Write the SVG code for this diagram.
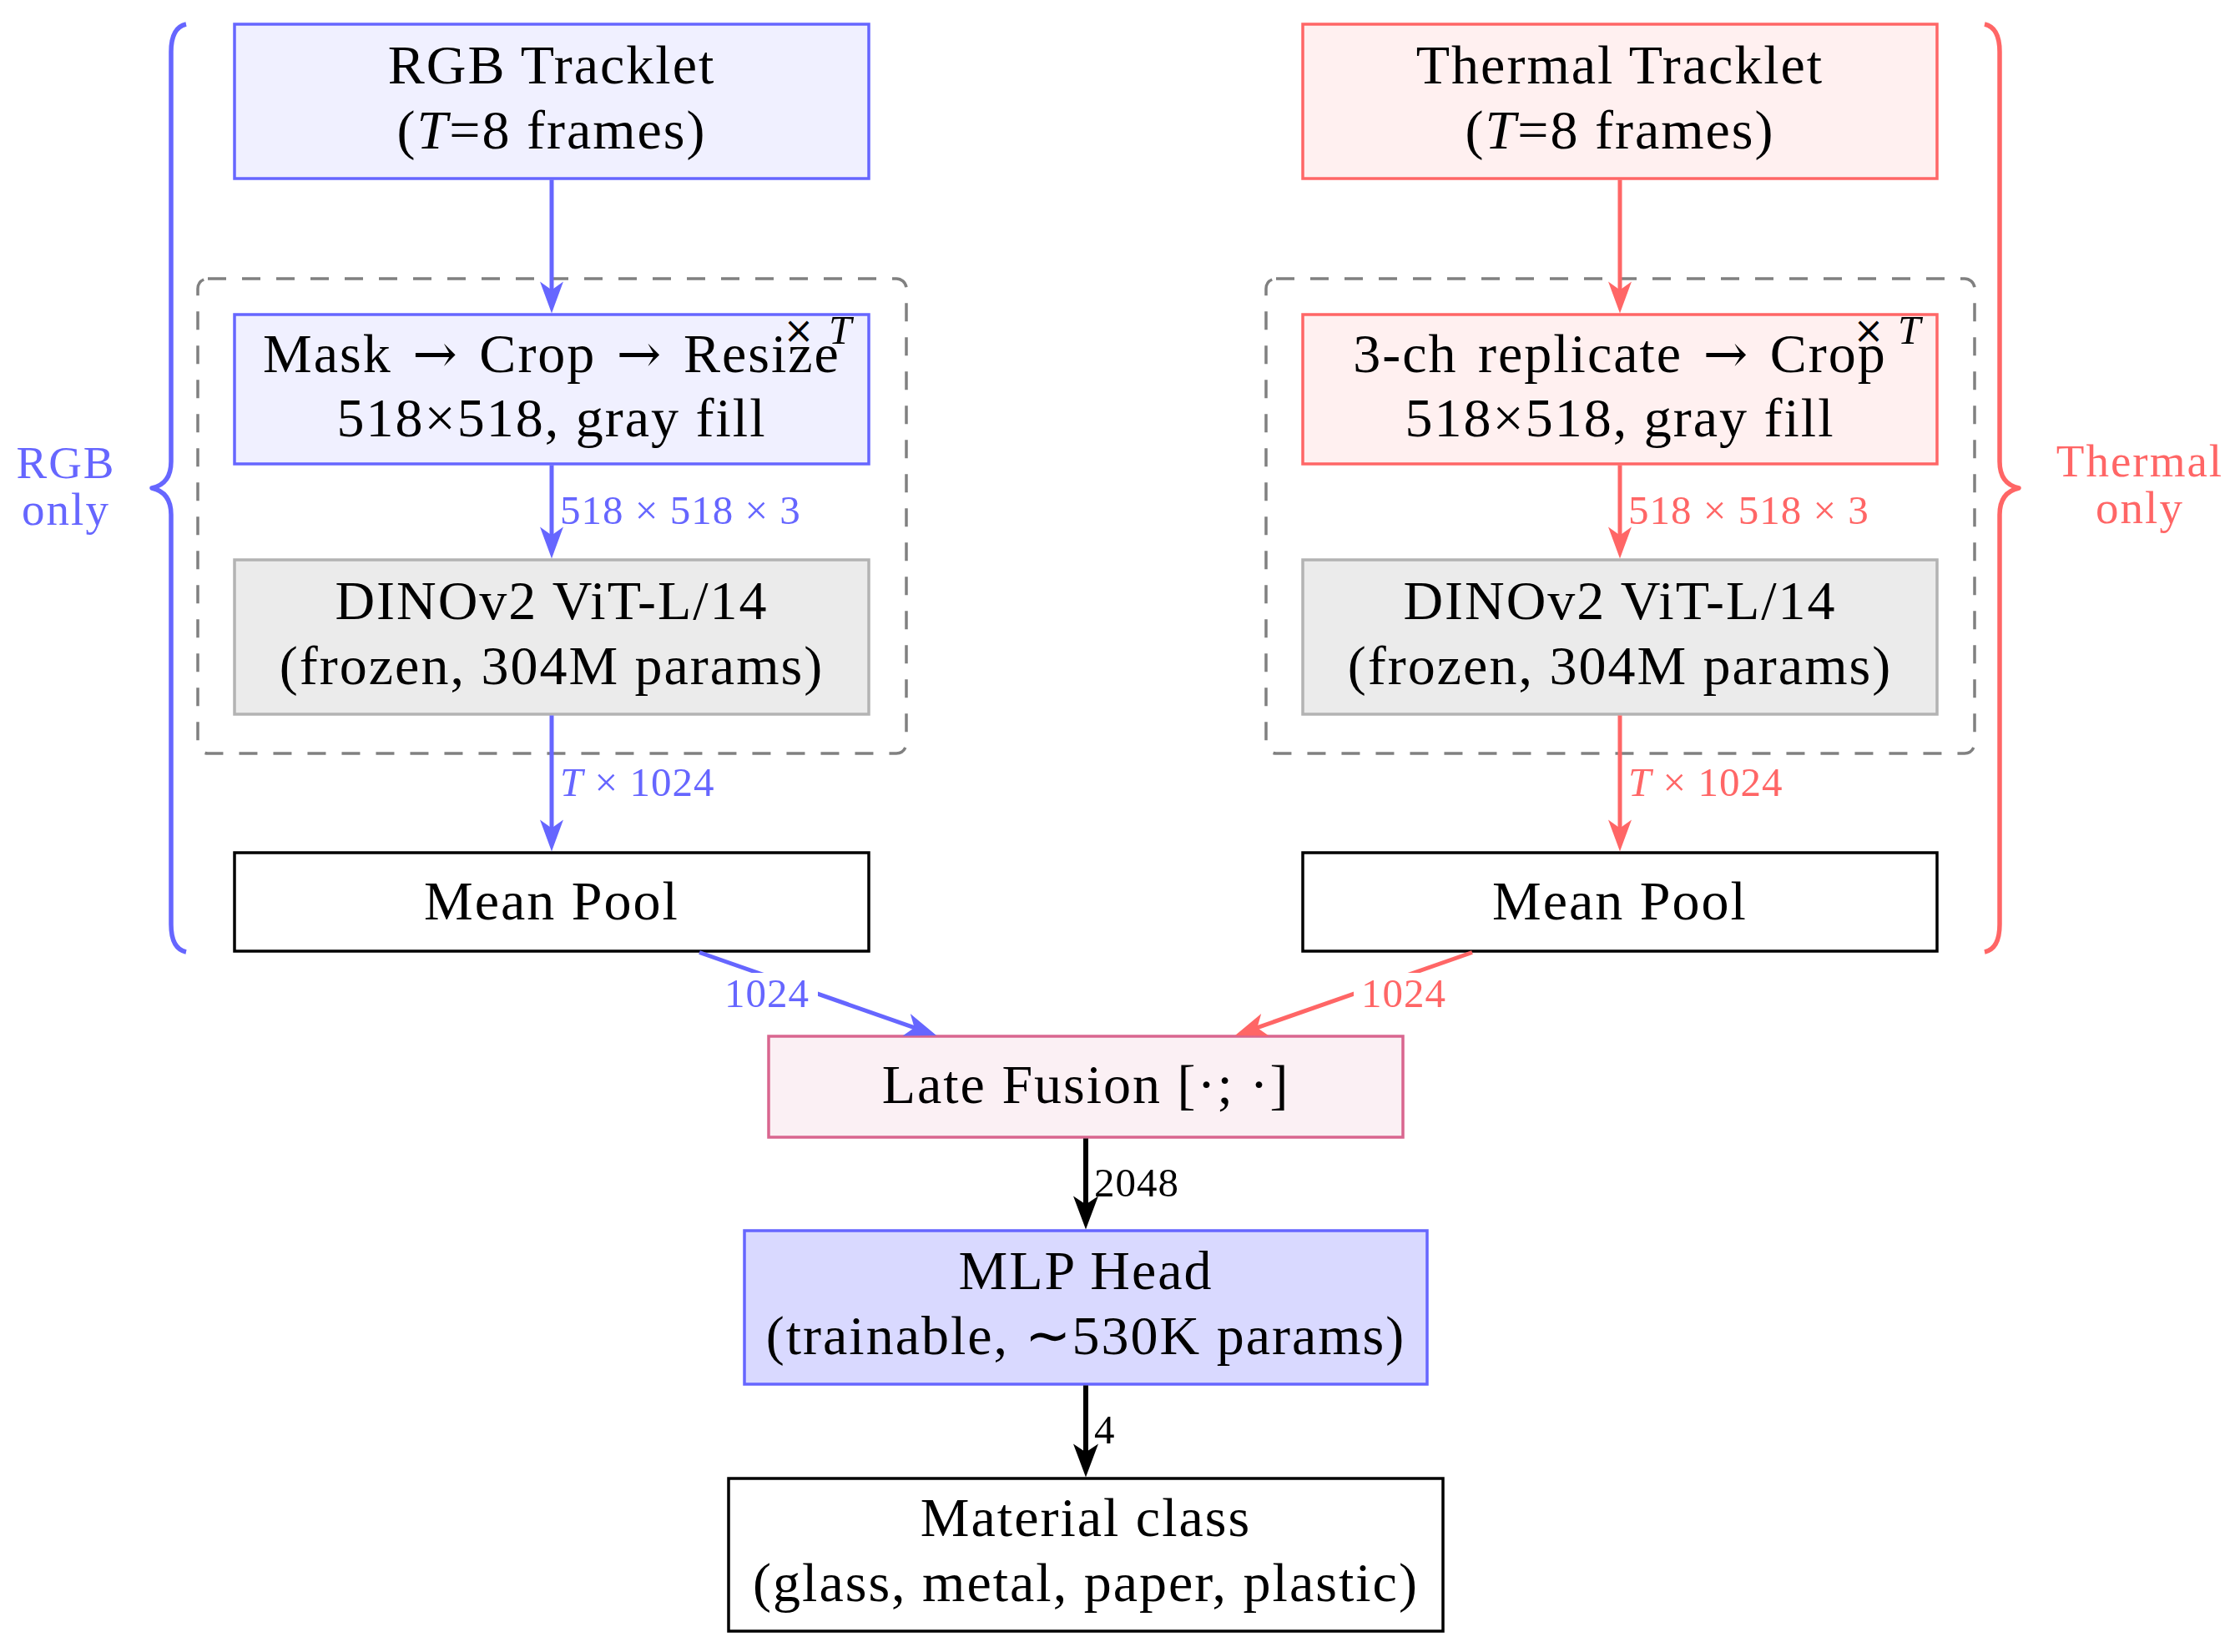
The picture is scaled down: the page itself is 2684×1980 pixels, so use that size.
<svg xmlns="http://www.w3.org/2000/svg" width="2684" height="1980" viewBox="0 0 2684 1980">
<style>
.t{font-family:'Liberation Serif',serif;font-size:66px;letter-spacing:2px;fill:#000;text-anchor:middle}
.s{font-family:'Liberation Serif',serif;font-size:49px;letter-spacing:1px}
.b{font-family:'Liberation Serif',serif;font-size:55px;letter-spacing:2px;text-anchor:middle}
.i{font-style:italic}
.arw{font-family:'DejaVu Serif',serif;font-size:64px}
.ws{word-spacing:6px}
.x{font-family:'DejaVu Sans',sans-serif;font-size:44px;text-anchor:middle}
.box{stroke-width:3.5}
.dash{fill:none;stroke:#808080;stroke-width:3.5;stroke-dasharray:22 19}
.ab{stroke:#6666FF;stroke-width:5;fill:none}
.ar{stroke:#FF6666;stroke-width:5;fill:none}
.ak{stroke:#000;stroke-width:6;fill:none}
.brace{fill:none;stroke-width:5.5;stroke-linejoin:round}
</style>
<defs>
<marker id="mb" markerUnits="userSpaceOnUse" viewBox="-14 -16 44 32" markerWidth="44" markerHeight="32" refX="0" refY="0" orient="auto"><path d="M26 0 L-12 -14 L-2 0 L-12 14 Z" fill="#6666FF"/></marker>
<marker id="mr" markerUnits="userSpaceOnUse" viewBox="-14 -16 44 32" markerWidth="44" markerHeight="32" refX="0" refY="0" orient="auto"><path d="M26 0 L-12 -14 L-2 0 L-12 14 Z" fill="#FF6666"/></marker>
<marker id="mk" markerUnits="userSpaceOnUse" viewBox="-14 -17 46 34" markerWidth="46" markerHeight="34" refX="0" refY="0" orient="auto"><path d="M28 0 L-12 -15 L-2 0 L-12 15 Z" fill="#000"/></marker>
</defs>
<rect width="2684" height="1980" fill="#fff"/>

<g id="braces">
<path class="brace" stroke="#6666FF" d="M223 29 Q205 33 205 62 L205 553 Q205 580 182 585 Q205 590 205 617 L205 1108 Q205 1137 223 1141"/>
<path class="brace" stroke="#FF6666" d="M2378 29 Q2396 33 2396 62 L2396 553 Q2396 580 2419 585 Q2396 590 2396 617 L2396 1108 Q2396 1137 2378 1141"/>
<text class="b" fill="#6666FF" x="79" y="573">RGB</text>
<text class="b" fill="#6666FF" x="79" y="629">only</text>
<text class="b" fill="#FF6666" x="2564" y="571">Thermal</text>
<text class="b" fill="#FF6666" x="2564" y="627">only</text>
</g>

<g id="frames">
<rect class="dash" x="237" y="334" width="849" height="569" rx="12"/>
<rect class="dash" x="1517" y="334" width="849" height="569" rx="12"/>
</g>

<g id="rgb-tracklet">
<rect class="box" x="281" y="29" width="760" height="185" fill="#F0F0FF" stroke="#6666FF"/>
<text class="t" x="661" y="100">RGB Tracklet</text>
<text class="t" x="661" y="178">(<tspan class="i">T</tspan>=8 frames)</text>
</g>
<g id="thermal-tracklet">
<rect class="box" x="1561" y="29" width="760" height="185" fill="#FFF0F0" stroke="#FF6666"/>
<text class="t" x="1941" y="100">Thermal Tracklet</text>
<text class="t" x="1941" y="178">(<tspan class="i">T</tspan>=8 frames)</text>
</g>

<g id="rgb-preproc">
<rect class="box" x="281" y="377" width="760" height="179" fill="#F0F0FF" stroke="#6666FF"/>
<text class="t ws" x="661" y="446">Mask <tspan class="arw">→</tspan> Crop <tspan class="arw">→</tspan> Resize</text>
<text class="t" x="661" y="523">518×518, gray fill</text>
<text class="x" x="957" y="411">×</text>
<text class="s i" x="993" y="412">T</text>
</g>
<g id="thermal-preproc">
<rect class="box" x="1561" y="377" width="760" height="179" fill="#FFF0F0" stroke="#FF6666"/>
<text class="t ws" x="1941" y="446">3-ch replicate <tspan class="arw">→</tspan> Crop</text>
<text class="t" x="1941" y="523">518×518, gray fill</text>
<text class="x" x="2239" y="411">×</text>
<text class="s i" x="2274" y="412">T</text>
</g>

<g id="rgb-dino">
<rect class="box" x="281" y="671" width="760" height="185" fill="#EBEBEB" stroke="#B3B3B3"/>
<text class="t" x="661" y="742">DINOv2 ViT-L/14</text>
<text class="t" x="661" y="820">(frozen, 304M params)</text>
</g>
<g id="thermal-dino">
<rect class="box" x="1561" y="671" width="760" height="185" fill="#EBEBEB" stroke="#B3B3B3"/>
<text class="t" x="1941" y="742">DINOv2 ViT-L/14</text>
<text class="t" x="1941" y="820">(frozen, 304M params)</text>
</g>

<g id="rgb-pool">
<rect class="box" x="281" y="1022" width="760" height="118" fill="#fff" stroke="#000"/>
<text class="t" x="661" y="1102">Mean Pool</text>
</g>
<g id="thermal-pool">
<rect class="box" x="1561" y="1022" width="760" height="118" fill="#fff" stroke="#000"/>
<text class="t" x="1941" y="1102">Mean Pool</text>
</g>

<g id="late-fusion">
<rect class="box" x="921" y="1242" width="760" height="121" fill="#FBF0F4" stroke="#D9668F"/>
<text class="t" x="1301" y="1322">Late Fusion [·; ·]</text>
</g>
<g id="mlp-head">
<rect class="box" x="892" y="1475" width="818" height="184" fill="#D9D9FF" stroke="#6666FF"/>
<text class="t" x="1301" y="1545">MLP Head</text>
<text class="t" x="1301" y="1623">(trainable, ∼530K params)</text>
</g>
<g id="material-class">
<rect class="box" x="873" y="1772" width="856" height="183" fill="#fff" stroke="#000"/>
<text class="t" x="1301" y="1841">Material class</text>
<text class="t" x="1301" y="1919">(glass, metal, paper, plastic)</text>
</g>

<g id="connectors">
<line class="ab" x1="661" y1="215.5" x2="661" y2="349.5" marker-end="url(#mb)"/>
<line class="ar" x1="1941" y1="215.5" x2="1941" y2="349.5" marker-end="url(#mr)"/>
<line class="ab" x1="661" y1="557.5" x2="661" y2="643.5" marker-end="url(#mb)"/>
<line class="ar" x1="1941" y1="557.5" x2="1941" y2="643.5" marker-end="url(#mr)"/>
<line class="ab" x1="661" y1="857.5" x2="661" y2="994.5" marker-end="url(#mb)"/>
<line class="ar" x1="1941" y1="857.5" x2="1941" y2="994.5" marker-end="url(#mr)"/>
<line class="ab" x1="838" y1="1141.5" x2="1097.5" y2="1232.3" marker-end="url(#mb)"/>
<line class="ar" x1="1764" y1="1141.5" x2="1504.5" y2="1232.3" marker-end="url(#mr)"/>
<line class="ak" x1="1301" y1="1364.5" x2="1301" y2="1445.5" marker-end="url(#mk)"/>
<line class="ak" x1="1301" y1="1660.5" x2="1301" y2="1742.5" marker-end="url(#mk)"/>
<text class="s" fill="#6666FF" x="671" y="628">518 × 518 × 3</text>
<text class="s" fill="#FF6666" x="1951" y="628">518 × 518 × 3</text>
<text class="s" fill="#6666FF" x="671" y="954"><tspan class="i">T</tspan> × 1024</text>
<text class="s" fill="#FF6666" x="1951" y="954"><tspan class="i">T</tspan> × 1024</text>
<rect x="850" y="1166" width="130" height="50" fill="#fff"/>
<text class="s" fill="#6666FF" x="970" y="1207" text-anchor="end">1024</text>
<rect x="1622" y="1166" width="130" height="50" fill="#fff"/>
<text class="s" fill="#FF6666" x="1631" y="1207">1024</text>
<text class="s" fill="#000" x="1311" y="1434">2048</text>
<text class="s" fill="#000" x="1311" y="1730">4</text>
</g>
</svg>
